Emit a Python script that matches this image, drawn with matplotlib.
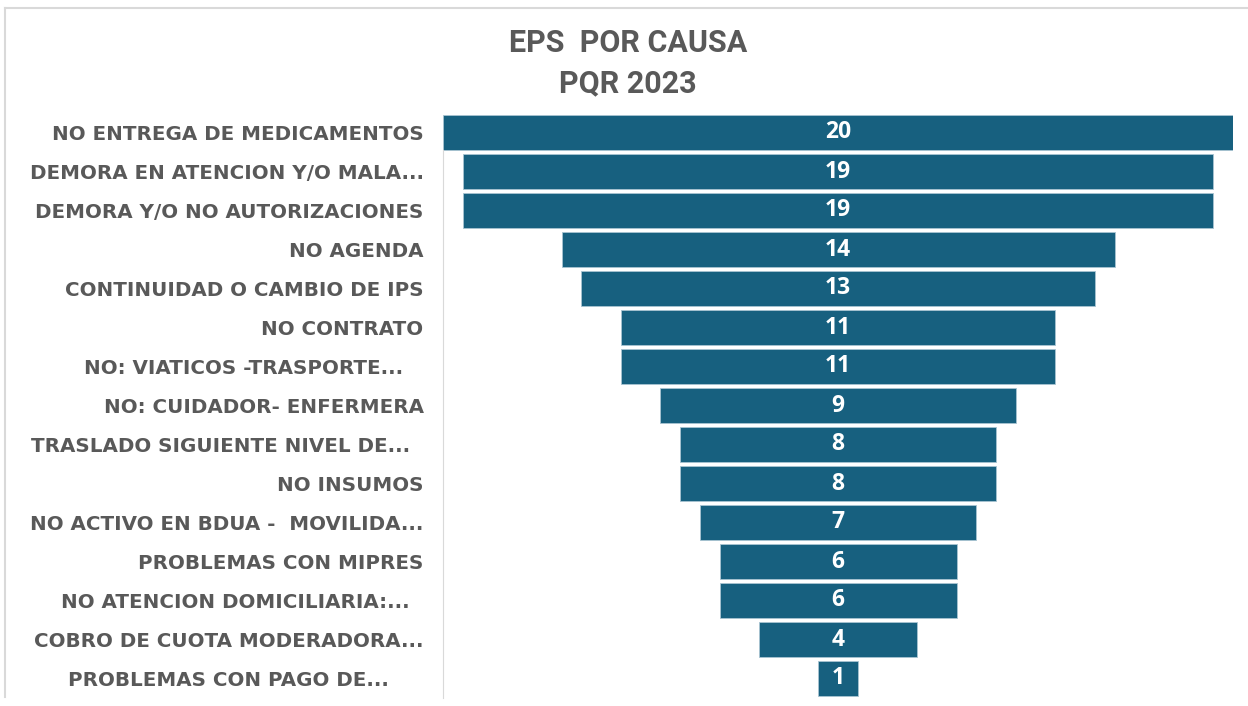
import matplotlib.pyplot as plt
from matplotlib.lines import Line2D

CAUSES = [
    'NO ENTREGA DE MEDICAMENTOS',
    'DEMORA EN ATENCION Y/O MALA...',
    'DEMORA Y/O NO AUTORIZACIONES',
    'NO AGENDA',
    'CONTINUIDAD O CAMBIO DE IPS',
    'NO CONTRATO',
    'NO: VIATICOS -TRASPORTE...   ',
    'NO: CUIDADOR- ENFERMERA',
    'TRASLADO SIGUIENTE NIVEL DE...  ',
    'NO INSUMOS',
    'NO ACTIVO EN BDUA -  MOVILIDA...',
    'PROBLEMAS CON MIPRES',
    'NO ATENCION DOMICILIARIA:...  ',
    'COBRO DE CUOTA MODERADORA...',
    'PROBLEMAS CON PAGO DE...     ',
]
COUNTS = [20, 19, 19, 14, 13, 11, 11, 9, 8, 8, 7, 6, 6, 4, 1]

BAR = '#17607f'
GREY = '#595959'

fig = plt.figure(figsize=[12.48, 7.06], dpi=100)
ax = fig.add_axes([443 / 1248, 8 / 706, 790 / 1248, 585 / 706])

pos = range(len(COUNTS))
lefts = [-v / 2 for v in COUNTS]
ax.barh(pos, COUNTS, left=lefts, height=0.9, color=BAR, edgecolor='#a9c4d2', linewidth=0.6)

for y, v in zip(pos, COUNTS):
    ax.text(0, y, str(v), ha='center', va='center', color='white',
            fontsize=16.5, fontweight='bold', family='Open Sans')

ax.set_xlim(-10, 10)
ax.set_ylim(len(COUNTS) - 0.5, -0.5)
ax.set_yticks(list(pos))
ax.set_yticklabels(CAUSES, fontsize=14.3, fontweight='bold', color=GREY, family='DejaVu Sans')
ax.tick_params(axis='y', length=0, pad=14)
ax.set_xticks([])
for side in ['top', 'right', 'bottom']:
    ax.spines[side].set_visible(False)
ax.spines['left'].set_color('#d9d9d9')
ax.spines['left'].set_bounds(0.45, len(COUNTS) - 0.5)

fig.text(628 / 1248, 1 - 43 / 706, 'EPS  POR CAUSA', ha='center', va='center',
         fontsize=22, fontweight='bold', color=GREY, family='Roboto')
fig.text(628 / 1248, 1 - 83 / 706, 'PQR 2023', ha='center', va='center',
         fontsize=22, fontweight='bold', color=GREY, family='Roboto')

# chart frame (only top and left edges visible)
fig.add_artist(Line2D([5 / 1248, 1], [1 - 8 / 706, 1 - 8 / 706], color='#d9d9d9', lw=1.5))
fig.add_artist(Line2D([5 / 1248, 5 / 1248], [1 - 8 / 706, 1 - 697 / 706], color='#d9d9d9', lw=1.5))

plt.savefig('out.png', dpi=100)
